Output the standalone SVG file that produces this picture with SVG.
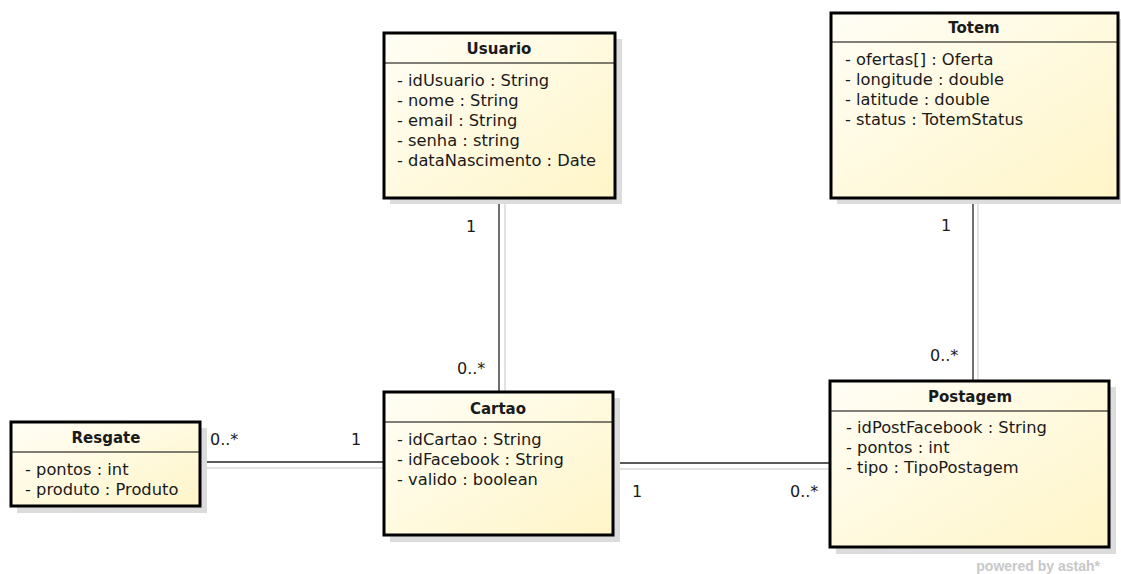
<svg xmlns="http://www.w3.org/2000/svg" width="1121" height="574" viewBox="0 0 1121 574">
<style>
.shadow{fill:#dcdcdc}
.box{fill:url(#g);stroke:#000;stroke-width:3}
.sep{stroke:#000;stroke-width:1.2}
.title{font-family:"DejaVu Sans",sans-serif;font-size:15px;font-weight:bold;text-anchor:middle;fill:#1a1a1a}
.attr{font-family:"DejaVu Sans",sans-serif;font-size:16.3px;fill:#1a1a1a}
.mult{font-family:"DejaVu Sans",sans-serif;font-size:16px;fill:#1a1a1a}
.conn{stroke:#222;stroke-width:1.3;fill:none}
.connsh{stroke:#d8d8d8;stroke-width:1.5;fill:none}
</style>
<defs>
<linearGradient id="g" x1="0" y1="0" x2="1" y2="1">
<stop offset="0" stop-color="#fffef6"/>
<stop offset="1" stop-color="#fff5c8"/>
</linearGradient>
</defs>
<rect width="1121" height="574" fill="#fff"/>
<g id="connectors">
<line class="connsh" x1="505" y1="200" x2="505" y2="398"/>
<line class="conn" x1="499" y1="198" x2="499" y2="392"/>
<line class="connsh" x1="978" y1="200" x2="978" y2="387"/>
<line class="conn" x1="973" y1="198" x2="973" y2="381"/>
<line class="connsh" x1="206" y1="468" x2="390" y2="468"/>
<line class="conn" x1="200" y1="462" x2="384" y2="462"/>
<line class="connsh" x1="619" y1="469" x2="836" y2="469"/>
<line class="conn" x1="613" y1="463" x2="830" y2="463"/>
<text class="mult" x="466" y="232">1</text>
<text class="mult" x="457" y="374">0..*</text>
<text class="mult" x="941" y="231">1</text>
<text class="mult" x="930" y="361">0..*</text>
<text class="mult" x="210" y="445">0..*</text>
<text class="mult" x="351" y="445">1</text>
<text class="mult" x="632" y="497">1</text>
<text class="mult" x="790" y="497">0..*</text>
</g>
<g id="Usuario">
<rect class="shadow" x="390" y="39" width="232" height="165"/>
<rect class="box" x="384" y="33" width="231" height="165"/>
<line class="sep" x1="384" y1="63" x2="615" y2="63"/>
<text class="title" x="499" y="54">Usuario</text>
<text class="attr" x="397" y="86">- idUsuario : String</text>
<text class="attr" x="397" y="106">- nome : String</text>
<text class="attr" x="397" y="126">- email : String</text>
<text class="attr" x="397" y="146">- senha : string</text>
<text class="attr" x="397" y="166">- dataNascimento : Date</text>
</g>
<g id="Totem">
<rect class="shadow" x="837" y="19" width="284" height="185"/>
<rect class="box" x="831" y="13" width="287" height="185"/>
<line class="sep" x1="831" y1="42" x2="1118" y2="42"/>
<text class="title" x="974" y="33">Totem</text>
<text class="attr" x="845" y="65">- ofertas[] : Oferta</text>
<text class="attr" x="845" y="85">- longitude : double</text>
<text class="attr" x="845" y="105">- latitude : double</text>
<text class="attr" x="845" y="125">- status : TotemStatus</text>
</g>
<g id="Resgate">
<rect class="shadow" x="17" y="428" width="190" height="85"/>
<rect class="box" x="11" y="422" width="189" height="84"/>
<line class="sep" x1="11" y1="452" x2="200" y2="452"/>
<text class="title" x="106" y="443">Resgate</text>
<text class="attr" x="25" y="475">- pontos : int</text>
<text class="attr" x="25" y="495">- produto : Produto</text>
</g>
<g id="Cartao">
<rect class="shadow" x="390" y="398" width="230" height="144"/>
<rect class="box" x="384" y="392" width="229" height="143"/>
<line class="sep" x1="384" y1="422" x2="613" y2="422"/>
<text class="title" x="498" y="414">Cartao</text>
<text class="attr" x="397" y="445">- idCartao : String</text>
<text class="attr" x="397" y="465">- idFacebook : String</text>
<text class="attr" x="397" y="485">- valido : boolean</text>
</g>
<g id="Postagem">
<rect class="shadow" x="836" y="387" width="280" height="167"/>
<rect class="box" x="830" y="381" width="279" height="166"/>
<line class="sep" x1="830" y1="411" x2="1109" y2="411"/>
<text class="title" x="970" y="402">Postagem</text>
<text class="attr" x="846" y="433">- idPostFacebook : String</text>
<text class="attr" x="846" y="453">- pontos : int</text>
<text class="attr" x="846" y="473">- tipo : TipoPostagem</text>
</g>
<text x="1100" y="571" font-family="Liberation Sans, sans-serif" font-size="14" font-weight="bold" fill="#c8c8c8" text-anchor="end">powered by astah*</text>
</svg>
